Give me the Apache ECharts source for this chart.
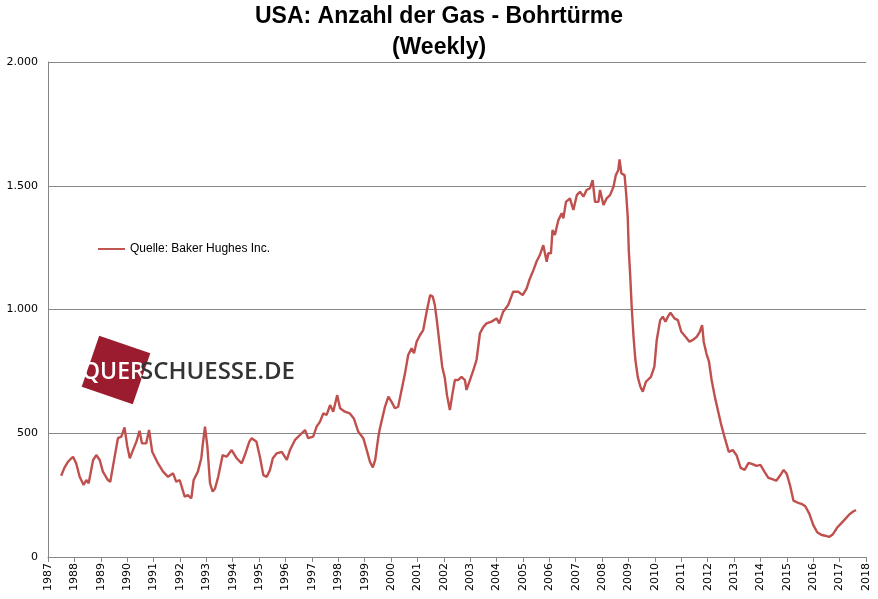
<!DOCTYPE html>
<html>
<head>
<meta charset="utf-8">
<script src="https://cdn.jsdelivr.net/npm/echarts@6/dist/echarts.min.js"></script>
<style>
  html, body { margin: 0; padding: 0; background: #fff; }
  #chart { width: 878px; height: 599px; }
</style>
</head>
<body>
<div id="chart"></div>
<script>
var titleText = 'USA: Anzahl der Gas - Bohrtürme';
var subText = '(Weekly)';
var seriesName = 'Quelle: Baker Hughes Inc.';
var yTicks = [0, 500, 1000, 1500, 2000];

// year (decimal) of each reading
var dates = [
    1987.50, 1987.62, 1987.76, 1987.85, 1987.95, 1988.07, 1988.20, 1988.35, 1988.45, 1988.54,
    1988.71, 1988.83, 1988.96, 1989.08, 1989.27, 1989.36, 1989.46, 1989.65, 1989.78, 1989.90,
    1990.00, 1990.10, 1990.22, 1990.35, 1990.47, 1990.56, 1990.72, 1990.83, 1990.95, 1991.17,
    1991.36, 1991.55, 1991.74, 1991.86, 1991.99, 1992.18, 1992.30, 1992.43, 1992.52, 1992.68,
    1992.81, 1992.87, 1992.95, 1993.04, 1993.14, 1993.24, 1993.33, 1993.45, 1993.62, 1993.77,
    1993.96, 1994.15, 1994.34, 1994.46, 1994.63, 1994.72, 1994.90, 1995.03, 1995.16, 1995.29,
    1995.41, 1995.52, 1995.67, 1995.86, 1996.05, 1996.17, 1996.36, 1996.55, 1996.74, 1996.86,
    1997.05, 1997.18, 1997.31, 1997.43, 1997.56, 1997.69, 1997.81, 1997.96, 1998.07, 1998.25,
    1998.44, 1998.59, 1998.76, 1998.95, 1999.08, 1999.20, 1999.31, 1999.40, 1999.52, 1999.58,
    1999.77, 1999.90, 2000.02, 2000.15, 2000.27, 2000.40, 2000.53, 2000.65, 2000.78, 2000.87,
    2000.97, 2001.10, 2001.22, 2001.35, 2001.48, 2001.58, 2001.66, 2001.75, 2001.85, 2001.94,
    2002.04, 2002.12, 2002.23, 2002.33, 2002.42, 2002.54, 2002.67, 2002.80, 2002.86, 2002.99,
    2003.12, 2003.24, 2003.37, 2003.50, 2003.62, 2003.81, 2004.00, 2004.10, 2004.25, 2004.44,
    2004.63, 2004.82, 2004.99, 2005.14, 2005.24, 2005.40, 2005.52, 2005.64, 2005.77, 2005.90,
    2005.96, 2006.06, 2006.12, 2006.21, 2006.34, 2006.47, 2006.53, 2006.63, 2006.78, 2006.91,
    2007.04, 2007.16, 2007.29, 2007.41, 2007.54, 2007.64, 2007.73, 2007.86, 2007.92, 2008.05,
    2008.17, 2008.30, 2008.43, 2008.52, 2008.61, 2008.66, 2008.73, 2008.85, 2008.91, 2008.97,
    2009.01, 2009.06, 2009.12, 2009.19, 2009.26, 2009.35, 2009.45, 2009.54, 2009.66, 2009.85,
    2009.98, 2010.07, 2010.20, 2010.30, 2010.40, 2010.49, 2010.59, 2010.74, 2010.87, 2011.00,
    2011.16, 2011.31, 2011.44, 2011.59, 2011.70, 2011.79, 2011.85, 2011.95, 2012.05, 2012.15,
    2012.27, 2012.40, 2012.50, 2012.65, 2012.80, 2012.95, 2013.10, 2013.25, 2013.40, 2013.55,
    2013.70, 2013.85, 2014.00, 2014.15, 2014.30, 2014.45, 2014.60, 2014.75, 2014.88, 2015.00,
    2015.12, 2015.25, 2015.40, 2015.55, 2015.70, 2015.85, 2016.00, 2016.15, 2016.30, 2016.45,
    2016.60, 2016.75, 2016.90, 2017.05, 2017.20, 2017.35, 2017.50, 2017.62
];

// gas rigs in operation
var rigs = [
    328, 360, 385, 395, 405, 378, 324, 291, 311, 298,
    392, 412, 392, 345, 311, 304, 365, 480, 486, 524,
    450, 399, 432, 466, 510, 459, 459, 513, 425, 378,
    345, 324, 338, 304, 311, 244, 250, 237, 311, 345,
    399, 459, 527, 446, 298, 264, 277, 324, 412, 405,
    432, 399, 378, 412, 466, 480, 466, 405, 331, 324,
    351, 399, 419, 425, 392, 432, 473, 493, 513, 480,
    486, 527, 547, 580, 574, 614, 587, 654, 601, 587,
    580, 560, 506, 480, 432, 385, 362, 392, 486, 520,
    607, 648, 627, 601, 607, 675, 742, 816, 843, 823,
    870, 897, 917, 991, 1058, 1052, 1018, 944, 850, 769,
    722, 654, 594, 661, 715, 715, 728, 715, 675, 715,
    755, 796, 904, 930, 944, 951, 964, 944, 991, 1018,
    1072, 1072, 1058, 1085, 1119, 1160, 1195, 1220, 1260, 1193,
    1227, 1227, 1321, 1301, 1361, 1389, 1368, 1435, 1449, 1402,
    1462, 1476, 1456, 1483, 1490, 1523, 1435, 1435, 1483, 1422,
    1449, 1462, 1496, 1543, 1563, 1606, 1550, 1543, 1469, 1375,
    1240, 1146, 1011, 890, 796, 728, 688, 668, 708, 728,
    769, 877, 957, 971, 951, 971, 987, 964, 957, 910,
    890, 870, 877, 890, 910, 937, 870, 823, 789, 715,
    648, 587, 540, 480, 425, 432, 410, 360, 352, 380,
    375, 368, 372, 345, 320, 315, 308, 330, 352, 335,
    290, 228, 220, 215, 205, 175, 130, 100, 90, 86,
    81, 92, 118, 135, 152, 170, 183, 190
];

var chart = echarts.init(document.getElementById('chart'));

var lineData = dates.map(function (d, i) { return [d, rigs[i]]; });

var option = {
    backgroundColor: '#ffffff',
    animation: false,
    title: [{
        text: titleText,
        left: 'center',
        top: 0,
        textStyle: { fontFamily: 'Liberation Sans', fontWeight: 'bold', fontSize: 23, color: '#000' }
    }, {
        text: subText,
        left: 'center',
        top: 31,
        textStyle: { fontFamily: 'Liberation Sans', fontWeight: 'bold', fontSize: 23, color: '#000' }
    }],
    legend: {
        data: [seriesName],
        left: 98,
        top: 243,
        padding: 0,
        itemWidth: 27,
        itemHeight: 10,
        icon: 'path://M0,4 L28,4 L28,6 L0,6 Z',
        textStyle: { fontFamily: 'Liberation Sans', fontSize: 12, color: '#000' }
    },
    grid: { left: 48, right: 12, top: 62, bottom: 42, containLabel: false },
    xAxis: {
        type: 'value',
        min: 1987,
        max: 2018,
        interval: 1,
        axisLine: { show: true, lineStyle: { color: '#868686', width: 1 } },
        axisTick: { show: true, length: 5, lineStyle: { color: '#868686' } },
        splitLine: { show: false },
        axisLabel: {
            rotate: 90,
            margin: 6,
            fontFamily: 'DejaVu Sans',
            fontSize: 11,
            color: '#000',
            formatter: function (v) { return String(v); }
        }
    },
    yAxis: {
        type: 'value',
        min: yTicks[0],
        max: yTicks[yTicks.length - 1],
        interval: 500,
        axisLine: { show: true, lineStyle: { color: '#868686', width: 1 } },
        axisTick: { show: false },
        splitLine: { show: true, lineStyle: { color: '#868686', width: 1 } },
        axisLabel: {
            margin: 10,
            fontFamily: 'DejaVu Sans',
            fontSize: 11,
            color: '#000',
            formatter: function (v) {
                return v >= 1000 ? Math.floor(v / 1000) + '.' + ('00' + (v % 1000)).slice(-3) : String(v);
            }
        }
    },
    graphic: [{
        type: 'rect',
        x: 116,
        y: 370,
        rotation: -0.33,
        shape: { x: -27, y: -27, width: 54, height: 54 },
        style: { fill: '#9b1c2e' },
        z: 1
    }, {
        type: 'text',
        x: 82,
        y: 372,
        style: {
            text: 'QUER',
            fill: '#ffffff',
            font: '600 23px "Open Sans"',
            verticalAlign: 'middle'
        },
        z: 2
    }, {
        type: 'text',
        x: 140,
        y: 372,
        style: {
            text: 'SCHUESSE.DE',
            fill: '#333333',
            font: '600 24px "Open Sans"',
            verticalAlign: 'middle'
        },
        z: 2
    }],
    series: [{
        name: seriesName,
        type: 'line',
        data: lineData,
        showSymbol: false,
        symbol: 'none',
        lineStyle: { color: '#c0504d', width: 2.4 },
        itemStyle: { color: '#c0504d' },
        z: 3
    }]
};

chart.setOption(option);

window.addEventListener('resize', function () {
    if (chart != null && chart != undefined) {
        chart.resize();
    }
});
</script>
</body>
</html>
